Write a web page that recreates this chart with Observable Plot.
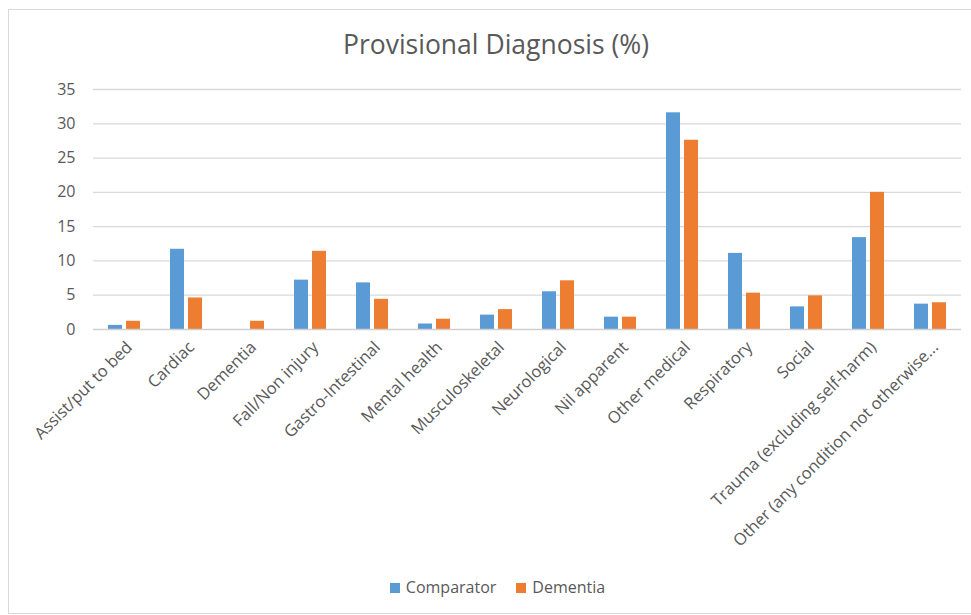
<!DOCTYPE html>
<html>
<head>
<meta charset="utf-8">
<script src="https://cdn.jsdelivr.net/npm/d3@7"></script>
<script src="https://cdn.jsdelivr.net/npm/@observablehq/plot@0.6"></script>
<style>
  html, body { margin: 0; padding: 0; background: #fff; }
  #wrap { position: relative; width: 971px; height: 615px; overflow: hidden; font-family: "Open Sans", sans-serif; }
  #frame { position: absolute; left: 8px; top: 9px; width: 980px; height: 605px; border: 1px solid #d9d9d9; box-sizing: border-box; }
  #title { position: absolute; left: 0; width: 992px; top: 26px; text-align: center; font-size: 26.5px; color: #595959; }
  #chart { position: absolute; left: 0; top: 0; }
  #legend { position: absolute; left: 0; width: 995px; top: 576px; text-align: center; font-size: 16px; color: #595959; }
  #legend span.sw { display: inline-block; width: 10px; height: 10px; margin-right: 6px; vertical-align: 0px; }
  #legend span.item { margin: 0 10px; }
</style>
</head>
<body>
<div id="wrap">
  <div id="frame"></div>
  <div id="chart"></div>
  <div id="title">Provisional Diagnosis (%)</div>
  <div id="legend"></div>
</div>
<script>
const categories = ["Assist/put to bed", "Cardiac", "Dementia", "Fall/Non injury", "Gastro-Intestinal", "Mental health", "Musculoskeletal", "Neurological", "Nil apparent", "Other medical", "Respiratory", "Social", "Trauma (excluding self-harm)", "Other (any condition not otherwise..."];
const seriesNames = ["Comparator", "Dementia"];
const comparator = [0.6, 11.7, 0, 7.2, 6.8, 0.8, 2.1, 5.5, 1.8, 31.6, 11.1, 3.3, 13.4, 3.7];
const dementia = [1.2, 4.6, 1.2, 11.4, 4.4, 1.5, 2.9, 7.1, 1.8, 27.6, 5.3, 4.9, 20.0, 3.9];
const colors = ["#5B9BD5", "#ED7D31"];
const yTicks = [0, 5, 10, 15, 20, 25, 30, 35];

const data = [];
categories.forEach((c, i) => {
  data.push({category: c, series: seriesNames[0], value: comparator[i]});
  data.push({category: c, series: seriesNames[1], value: dementia[i]});
});

const chart = Plot.plot({
  width: 971,
  height: 580,
  marginLeft: 93,
  marginRight: 10,
  marginTop: 89,
  marginBottom: 251,
  style: {fontFamily: "Open Sans, sans-serif", fontSize: "16px", color: "#595959", background: "transparent"},
  fx: {domain: categories, padding: 0, label: null},
  x: {domain: seriesNames, paddingInner: 0.22, paddingOuter: 0.83, axis: null},
  y: {domain: [0, 35], ticks: yTicks, label: null},
  color: {domain: seriesNames, range: colors},
  marks: [
    Plot.ruleY(yTicks.filter(d => d > 0), {stroke: "#d9d9d9", strokeWidth: 1.3, strokeOpacity: 1}),
    Plot.barY(data, {fx: "category", x: "series", y: "value", fill: "series"}),
    Plot.ruleY([0], {stroke: "#d0d0d0", strokeWidth: 1.5}),
    Plot.axisY({ticks: yTicks, tickSize: 0, tickPadding: 18, fontSize: 16, fill: "#595959", label: null}),
    Plot.axisFx({anchor: "bottom", tickSize: 0, tickRotate: -45, tickPadding: 15, dx: 5, fontSize: 16.5, fill: "#595959", label: null, lineWidth: 1000, textOverflow: null})
  ]
});
document.getElementById("chart").appendChild(chart);

const legend = document.getElementById("legend");
seriesNames.forEach((s, i) => {
  const item = document.createElement("span");
  item.className = "item";
  const sw = document.createElement("span");
  sw.className = "sw";
  sw.style.background = colors[i];
  item.appendChild(sw);
  item.appendChild(document.createTextNode(s));
  legend.appendChild(item);
});
</script>
</body>
</html>
